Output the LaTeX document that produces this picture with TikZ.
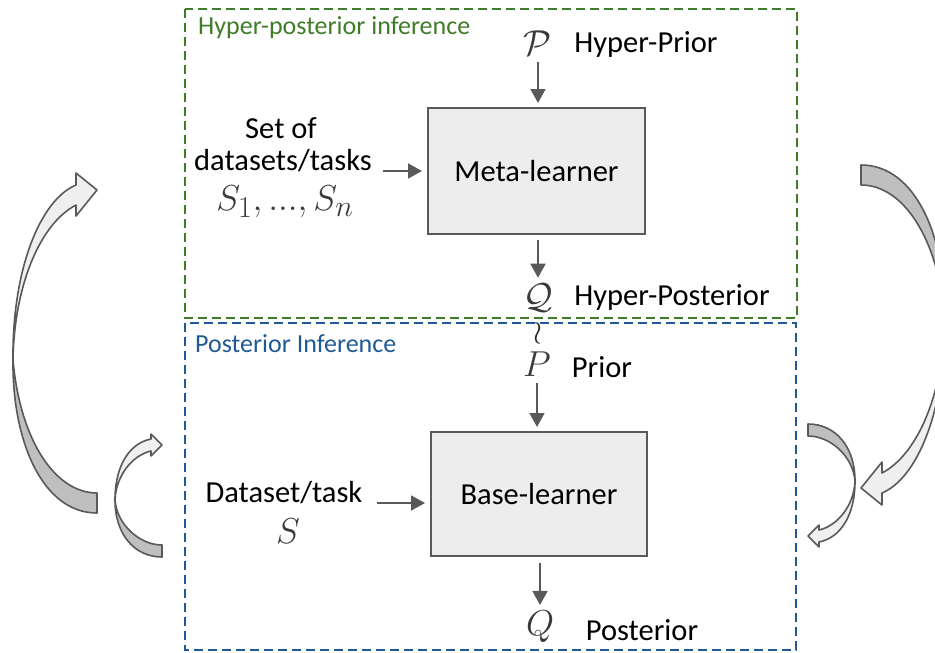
\documentclass[tikz,border=0pt]{standalone}
\usepackage{graphicx}
\usepackage{fontspec}
\setmainfont{Carlito}
\usetikzlibrary{arrows.meta}
\definecolor{dgray}{HTML}{595959}
\definecolor{boxfill}{HTML}{EDEDED}
\definecolor{hgreen}{HTML}{3F7C28}
\definecolor{pblue}{HTML}{1F5A96}
\definecolor{arrlight}{HTML}{EFEFEF}
\definecolor{arrdark}{HTML}{BFBFBF}
\definecolor{mathgray}{HTML}{3A3A3A}
\newcommand{\bigmath}[1]{\scalebox{1.45}{$#1$}}
\tikzset{
  learner/.style={draw=dgray, line width=2pt, fill=boxfill, inner sep=0pt,
    font=\fontsize{30.5}{34}\selectfont},
  lbl/.style={inner sep=0pt, font=\fontsize{30.5}{34}\selectfont},
  mth/.style={inner sep=0pt, text=mathgray, font=\fontsize{24.88}{28}\selectfont},
  arr/.style={draw=dgray, line width=1.8pt, -{Triangle[length=14pt,width=15pt]}},
  grpbox/.style={line width=2pt, dash pattern=on 9pt off 5pt},
  ttl/.style={inner sep=0pt, anchor=west, font=\fontsize{26}{30}\selectfont},
  bandlight/.style={fill=arrlight, draw=dgray, line width=1.6pt, line join=round},
  banddark/.style={fill=arrdark, draw=dgray, line width=1.6pt, line join=round},
}
\newcommand{\bigcurvedarrow}[1]{%
  \begin{scope}[#1]
    \path[banddark] (13,360) .. controls (12,440) and (42,513) .. (97,513)
      -- (97,493) .. controls (55,493) and (20,440) .. (13,360) -- cycle;
    \path[bandlight] (13,360) .. controls (12,270) and (40,200) .. (76,185)
      -- (76,173) -- (97,190) -- (76,216) -- (76,205)
      .. controls (38,225) and (14,290) .. (13,360) -- cycle;
  \end{scope}}
\newcommand{\smallcurvedarrow}[1]{%
  \begin{scope}[#1]
    \path[banddark] (115,500) .. controls (115,535) and (135,557) .. (162,557)
      -- (162,545) .. controls (140,545) and (117,525) .. (115,500) -- cycle;
    \path[bandlight] (115,500) .. controls (115,465) and (130,443) .. (151,439)
      -- (151,434) -- (162,445) -- (151,456) -- (151,451)
      .. controls (133,455) and (116,475) .. (115,500) -- cycle;
  \end{scope}}
\begin{document}
\begin{tikzpicture}[x=1pt,y=-1pt]
\useasboundingbox (0,0) rectangle (935,653);
\begin{scope}
\clip (0,0) rectangle (935,653);
% group boxes
\draw[grpbox, draw=hgreen] (185,9) rectangle (797,318);
\draw[grpbox, draw=pblue] (185,323) rectangle (796,650);
\node[ttl, text=hgreen] (t1) at (198,28) {Hyper-posterior inference};
\node[ttl, text=pblue] (t2) at (195,344) {Posterior Inference};
% learners
\node[learner, minimum width=217pt, minimum height=126pt] (meta) at (536.5,171) {Meta-learner};
\node[learner, minimum width=216pt, minimum height=124pt] (base) at (539,494) {Base-learner};
% hyper level
\node[mth] (hp) at (538,43) {\bigmath{\mathcal{P}}};
\node[lbl] (hptxt) at (646,44) {Hyper-Prior};
\node[lbl] (setof) at (281,128) {Set of};
\node[lbl] (dsets) at (283,161) {datasets/tasks};
\node[mth] (sn) at (285,202) {\bigmath{S_1,...,S_n}};
\node[mth] (hq) at (538,298) {\bigmath{\mathcal{Q}}};
\node[lbl] (hqtxt) at (672,297) {Hyper-Posterior};
\node[mth, text=black!85] (wr) at (538,333) {\scalebox{1.3}{$\wr$}};
% base level
\node[mth] (pp) at (537,364) {\bigmath{P}};
\node[lbl] (pptxt) at (602,367) {Prior};
\node[lbl] (dtask) at (284,493) {Dataset/task};
\node[mth] (s) at (288,531) {\bigmath{S}};
\node[mth] (qq) at (540,627) {\bigmath{Q}};
\node[lbl] (qqtxt) at (642,630) {Posterior};
% connectors
\draw[arr, shorten <=6pt, shorten >=4pt] (hp.south) -- (hp.south |- meta.north);
\coordinate (mstart) at (383,171);
\draw[arr, shorten >=5pt] (mstart) -- (meta.west);
\draw[arr, shorten <=5pt, shorten >=6pt] (hq.north |- meta.south) -- (hq.north);
\draw[arr, shorten <=6pt, shorten >=4pt] (pp.south) -- (pp.south |- base.north);
\coordinate (dstart) at (377,503);
\draw[arr, shorten >=5pt] (dstart) -- (dstart -| base.west);
\draw[arr, shorten <=6pt, shorten >=6pt] (qq.north |- base.south) -- (qq.north);
% curved block arrows
\bigcurvedarrow{}
\bigcurvedarrow{rotate around={180:(479,339)}}
\smallcurvedarrow{}
\smallcurvedarrow{rotate around={180:(485,490.5)}}
\end{scope}
\end{tikzpicture}
\end{document}
